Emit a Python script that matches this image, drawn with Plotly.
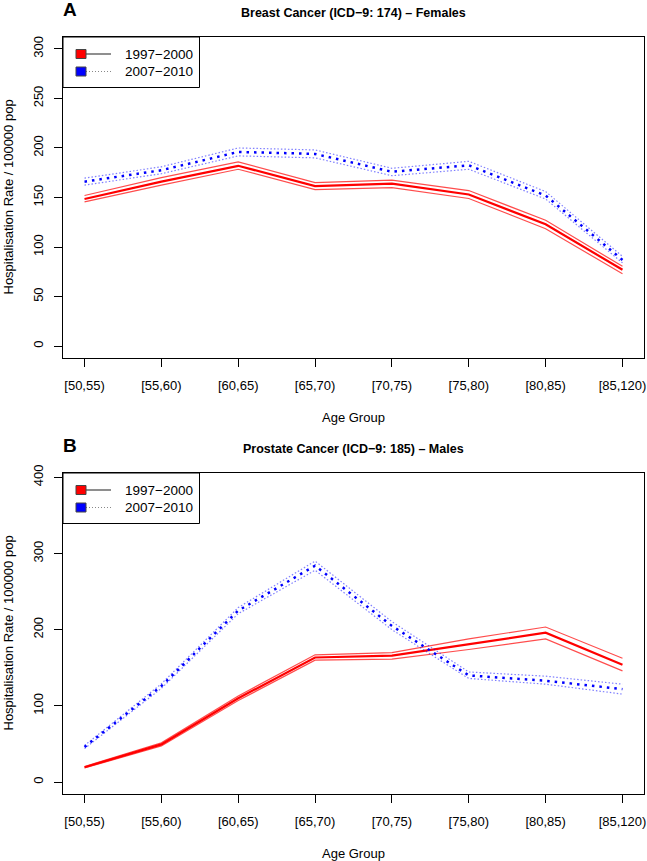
import plotly.graph_objects as go

W, H = 647, 861

age_groups = ["[50,55)", "[55,60)", "[60,65)", "[65,70)", "[70,75)", "[75,80)", "[80,85)", "[85,120)"]
periods = ["1997\u22122000", "2007\u22122010"]

# Panel A: Breast cancer, females
breast_9700 = [148.5, 166, 182, 161.5, 164, 153, 123, 77]
breast_9700_lo = [145.5, 162.5, 178.5, 158, 160, 149, 118.5, 73]
breast_9700_hi = [152, 170, 186, 165, 167.5, 157, 127, 80.5]
breast_0710 = [166, 177.5, 196, 194, 176, 182.5, 152, 87]
breast_0710_lo = [162.5, 174, 192, 190, 172, 178.5, 148.5, 84]
breast_0710_hi = [169.5, 181, 200, 198, 179.5, 186.5, 156, 90.5]

# Panel B: Prostate cancer, males
prost_9700 = [19.5, 49.5, 110, 163.5, 166, 181, 196, 154]
prost_9700_lo = [18.5, 47.5, 107, 160, 161.5, 174, 188, 146]
prost_9700_hi = [20.5, 51.5, 113, 167, 170, 188, 203.5, 162.5]
prost_0710 = [46, 126, 225, 284, 205, 140, 133, 122]
prost_0710_lo = [44, 123, 221, 278, 200, 136, 128.5, 115.5]
prost_0710_hi = [48, 129, 229, 290, 210.5, 144.5, 139, 128.5]

yticks_a = [0, 50, 100, 150, 200, 250, 300]
yticks_b = [0, 100, 200, 300, 400]

xs = list(range(1, len(age_groups) + 1))

FONT = "Liberation Sans, Arial, Helvetica, sans-serif"

def px(x):
    return x / W

def py(y):
    return 1 - y / H

fig = go.Figure()

def add_panel(xa, ya, c1, l1, h1, c2, l2, h2):
    for arr in (l1, h1):
        fig.add_trace(go.Scatter(x=xs, y=arr, mode="lines", xaxis=xa, yaxis=ya,
                                 line=dict(color="rgba(255,0,0,0.7)", width=1.2),
                                 showlegend=False, hoverinfo="skip"))
    fig.add_trace(go.Scatter(x=xs, y=c1, mode="lines", xaxis=xa, yaxis=ya,
                             line=dict(color="#ff0000", width=2.2),
                             showlegend=False))
    for arr in (l2, h2):
        fig.add_trace(go.Scatter(x=xs, y=arr, mode="lines", xaxis=xa, yaxis=ya,
                                 line=dict(color="rgba(0,0,255,0.5)", width=1.2, dash="1.5px,2px"),
                                 showlegend=False, hoverinfo="skip"))
    fig.add_trace(go.Scatter(x=xs, y=c2, mode="lines", xaxis=xa, yaxis=ya,
                             line=dict(color="#0000ff", width=2.5, dash="2.5px,5px"),
                             showlegend=False))

add_panel("x", "y", breast_9700, breast_9700_lo, breast_9700_hi,
          breast_0710, breast_0710_lo, breast_0710_hi)
add_panel("x2", "y2", prost_9700, prost_9700_lo, prost_9700_hi,
          prost_0710, prost_0710_lo, prost_0710_hi)

x_dom = [px(63), px(644)]
axis_common = dict(showline=True, mirror=True, linecolor="black", linewidth=1,
                   ticks="outside", ticklen=8, tickcolor="black", tickwidth=1,
                   showgrid=False, zeroline=False, automargin=False,
                   tickfont=dict(family=FONT, size=13, color="black"))

fig.update_layout(
    width=W, height=H, autosize=False,
    margin=dict(l=0, r=0, t=0, b=0, pad=0),
    paper_bgcolor="white", plot_bgcolor="white",
    showlegend=False,
    xaxis=dict(domain=x_dom, range=[0.72, 8.28], tickvals=xs, ticktext=age_groups,
               anchor="y", ticklabelstandoff=7, **axis_common),
    yaxis=dict(domain=[py(358), py(37)], range=[-12, 312], tickvals=yticks_a,
               tickangle=-90, anchor="x", ticklabelstandoff=6, **axis_common),
    xaxis2=dict(domain=x_dom, range=[0.72, 8.28], tickvals=xs, ticktext=age_groups,
                anchor="y2", ticklabelstandoff=7, **axis_common),
    yaxis2=dict(domain=[py(794), py(473)], range=[-15.6, 405.6], tickvals=yticks_b,
                tickangle=-90, anchor="x2", ticklabelstandoff=6, **axis_common),
)

anns = []
shapes = []

def panel_deco(letter, title, top, bottom):
    off = top - 37
    anns.append(dict(text="<b>%s</b>" % letter, x=px(70), y=py(9 + off), xref="paper", yref="paper",
                     xanchor="center", yanchor="middle", showarrow=False,
                     font=dict(family=FONT, size=19, color="black")))
    anns.append(dict(text="<b>%s</b>" % title, x=px(353.5), y=py(13 + off), xref="paper", yref="paper",
                     xanchor="center", yanchor="middle", showarrow=False,
                     font=dict(family=FONT, size=12.5, color="black")))
    anns.append(dict(text="Hospitalisation Rate / 100000 pop", x=px(8), y=py((top + bottom) / 2),
                     xref="paper", yref="paper", xanchor="center", yanchor="middle",
                     textangle=-90, showarrow=False,
                     font=dict(family=FONT, size=13, color="black")))
    anns.append(dict(text="Age Group", x=px(353.5), y=py(bottom + 59), xref="paper", yref="paper",
                     xanchor="center", yanchor="middle", showarrow=False,
                     font=dict(family=FONT, size=13, color="black")))
    # legend box
    shapes.append(dict(type="rect", xref="paper", yref="paper",
                       x0=px(63), x1=px(199.5), y0=py(top + 50.5), y1=py(top),
                       line=dict(color="black", width=1), fillcolor="white"))
    rows = [(top + 17, "#ff0000", "solid", periods[0]), (top + 34.5, "#0000ff", "1px,2px", periods[1])]
    for yc, col, dash, lab in rows:
        shapes.append(dict(type="line", xref="paper", yref="paper",
                           x0=px(86), x1=px(111), y0=py(yc), y1=py(yc),
                           line=dict(color="#444444" if dash == "solid" else "#888888",
                                     width=1.2 if dash == "solid" else 1,
                                     dash=dash)))
        shapes.append(dict(type="rect", xref="paper", yref="paper",
                           x0=px(76), x1=px(86), y0=py(yc + 4.5), y1=py(yc - 4.5),
                           line=dict(color="#444444", width=1), fillcolor=col))
        anns.append(dict(text=lab, x=px(123), y=py(yc), xref="paper", yref="paper",
                         xanchor="left", yanchor="middle", showarrow=False,
                         font=dict(family=FONT, size=13.5, color="black")))

panel_deco("A", "Breast Cancer (ICD\u22129: 174) \u2013 Females", 37, 358)
panel_deco("B", "Prostate Cancer (ICD\u22129: 185) \u2013 Males", 473, 794)

fig.update_layout(annotations=anns, shapes=shapes)

fig.write_html("out.html", config={"displayModeBar": False},
               post_script="document.body.style.margin='0px';document.body.style.overflow='hidden';")
